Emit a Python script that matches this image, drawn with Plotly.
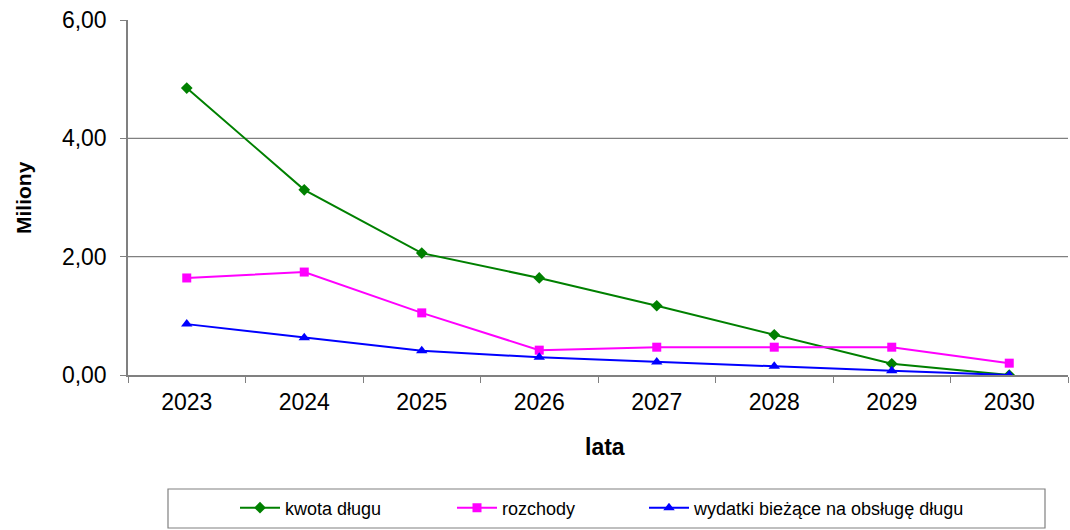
import plotly.graph_objects as go

years = ["2023", "2024", "2025", "2026", "2027", "2028", "2029", "2030"]
kwota_dlugu = [4.85, 3.13, 2.06, 1.64, 1.17, 0.68, 0.19, 0.0]
rozchody = [1.64, 1.74, 1.05, 0.42, 0.47, 0.47, 0.47, 0.20]
wydatki = [0.86, 0.63, 0.41, 0.30, 0.22, 0.15, 0.07, 0.0]
y_ticks = [0, 2, 4, 6]
y_tick_text = ["0,00", "2,00", "4,00", "6,00"]

FONT = "Liberation Sans, Arial, sans-serif"
L, W, T, H = 128, 940, 20, 355


def px_x(p):
    return (p - L) / W


def px_y(p):
    return (T + H - p) / H


fig = go.Figure()
fig.add_trace(go.Scatter(x=years, y=kwota_dlugu, name="kwota długu", mode="lines+markers",
                         line=dict(color="#008000", width=2), legend="legend",
                         marker=dict(symbol="diamond", size=9, color="#008000")))
fig.add_trace(go.Scatter(x=years, y=rozchody, name="rozchody", mode="lines+markers",
                         line=dict(color="#FF00FF", width=2), legend="legend2",
                         marker=dict(symbol="square", size=9, color="#FF00FF")))
fig.add_trace(go.Scatter(x=years, y=wydatki, name="wydatki bieżące na obsługę długu", mode="lines+markers",
                         line=dict(color="#0000FF", width=2), legend="legend3",
                         marker=dict(symbol="triangle-up", size=10, color="#0000FF")))

for v in y_ticks[1:-1]:
    fig.add_shape(type="line", xref="paper", yref="y", x0=0, x1=1, y0=v, y1=v,
                  line=dict(color="#808080", width=1.2), layer="below")

# legend frame
fig.add_shape(type="rect", xref="paper", yref="paper",
              x0=px_x(168), x1=px_x(1045), y0=px_y(528), y1=px_y(489),
              line=dict(color="#808080", width=1.2), fillcolor="white")


def leg(xpix):
    return dict(orientation="h", x=px_x(xpix), y=px_y(508), xanchor="left", yanchor="middle",
                font=dict(size=18, family=FONT), bgcolor="rgba(0,0,0,0)", borderwidth=0,
                itemwidth=40)


fig.update_layout(
    width=1070, height=530,
    margin=dict(l=L, r=1070 - L - W, t=T, b=530 - T - H),
    paper_bgcolor="white", plot_bgcolor="white",
    font=dict(family=FONT, color="black"),
    showlegend=True,
    legend=leg(235), legend2=leg(452), legend3=leg(644),
    xaxis=dict(type="category", showgrid=False, showline=True, linecolor="#808080", linewidth=1.5,
               ticks="outside", tickson="boundaries", ticklen=6, tickcolor="#808080",
               tickfont=dict(size=23, family=FONT), ticklabelstandoff=6,
               range=[-0.5, 7.5], fixedrange=True),
    yaxis=dict(range=[0, 6], tickvals=y_ticks, ticktext=y_tick_text, showgrid=False,
               showline=True, linecolor="#808080", linewidth=1.5, ticks="outside",
               ticklen=6, tickcolor="#808080", tickfont=dict(size=23, family=FONT),
               ticklabelstandoff=9, zeroline=False),
    annotations=[
        dict(text="<b>Miliony</b>", textangle=-90, xref="paper", yref="paper",
             x=px_x(23), y=px_y(198), showarrow=False,
             font=dict(size=21, family=FONT), xanchor="center", yanchor="middle"),
        dict(text="<b>lata</b>", xref="paper", yref="paper",
             x=px_x(605), y=px_y(447), showarrow=False,
             font=dict(size=23, family=FONT), xanchor="center", yanchor="middle"),
    ],
)

fig.write_html("out.html")
